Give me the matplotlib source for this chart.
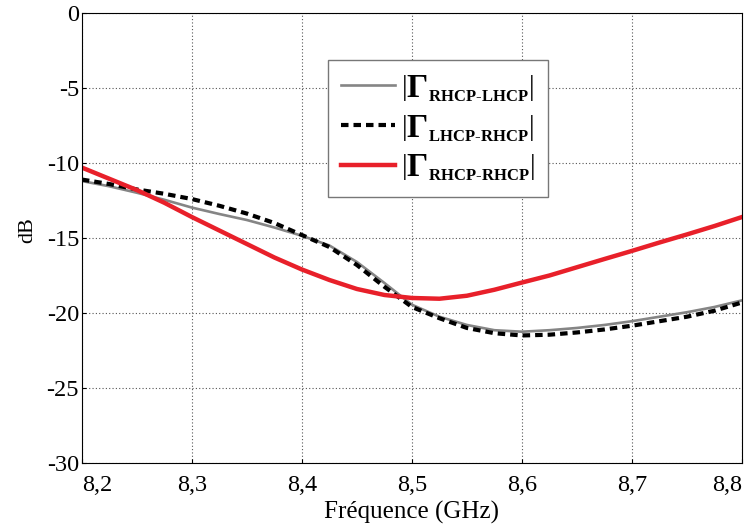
import numpy as np
import matplotlib.pyplot as plt
import matplotlib._mathtext as mathtext_internals

# frequency grid (GHz)
freq = [8.200, 8.225, 8.250, 8.275, 8.300, 8.325, 8.350, 8.375, 8.400, 8.425,
        8.450, 8.475, 8.500, 8.525, 8.550, 8.575, 8.600, 8.625, 8.650, 8.675,
        8.700, 8.725, 8.750, 8.775, 8.800]

# |Gamma RHCP-LHCP| (grey solid)
g_rl = [-11.20, -11.55, -11.98, -12.45, -12.97, -13.40, -13.80, -14.30, -14.85, -15.50,
        -16.60, -18.00, -19.45, -20.25, -20.80, -21.15, -21.25, -21.15, -21.00, -20.80,
        -20.55, -20.25, -19.95, -19.60, -19.16]

# |Gamma LHCP-RHCP| (black dotted)
g_lr = [-11.10, -11.40, -11.76, -12.05, -12.40, -12.85, -13.37, -14.00, -14.80, -15.60,
        -16.80, -18.25, -19.60, -20.35, -21.00, -21.35, -21.50, -21.45, -21.30, -21.10,
        -20.85, -20.55, -20.25, -19.85, -19.30]

# |Gamma RHCP-RHCP| (red solid)
g_rr = [-10.30, -11.05, -11.80, -12.65, -13.60, -14.50, -15.40, -16.30, -17.10, -17.80,
        -18.40, -18.80, -19.00, -19.05, -18.85, -18.45, -17.97, -17.50, -16.95, -16.40,
        -15.86, -15.30, -14.76, -14.20, -13.60]

xticks = [8.2, 8.3, 8.4, 8.5, 8.6, 8.7, 8.8]
xtick_labels = ['8,2', '8,3', '8,4', '8,5', '8,6', '8,7', '8,8']
yticks = [0, -5, -10, -15, -20, -25, -30]
ytick_labels = ['0', '-5', '-10', '-15', '-20', '-25', '-30']

plt.rcParams['font.family'] = ['Liberation Serif', 'DejaVu Serif']
plt.rcParams['mathtext.fontset'] = 'custom'
plt.rcParams['mathtext.rm'] = 'Liberation Serif'
plt.rcParams['mathtext.bf'] = 'Liberation Serif:bold'
plt.rcParams['mathtext.it'] = 'Liberation Serif:italic'
# smaller subscripts, the legend has a big Gamma with small index
mathtext_internals.SHRINK_FACTOR = 0.5

fig = plt.figure(figsize=(7.51, 5.26), dpi=100)
ax = fig.add_axes([0.109, 0.120, 0.879, 0.855])

ax.plot(freq, g_rl, color='#858585', lw=1.9,
        label=r'$\left|\mathbf{\Gamma}_{\mathbf{RHCP\text{-}LHCP}}\right|$')
ax.plot(freq, g_lr, color='black', lw=3.0, linestyle=(0, (1.8, 1.2)),
        label=r'$\left|\mathbf{\Gamma}_{\mathbf{LHCP\text{-}RHCP}}\right|$')
ax.plot(freq, g_rr, color='#e8202a', lw=3.2,
        label=r'$\left|\mathbf{\Gamma}_{\mathbf{RHCP\text{-}RHCP}}\right|$')

ax.set_xlim(8.2, 8.8)
ax.set_ylim(-30, 0)
ax.set_xticks(xticks)
ax.set_xticklabels(xtick_labels)
ax.set_yticks(yticks)
ax.set_yticklabels(ytick_labels)
ax.tick_params(direction='in', length=3, labelsize=17.5)
ax.tick_params(axis='x', pad=9)
ax.tick_params(axis='y', pad=2)
# end labels sit inside the frame like in the original
xlabels = ax.get_xticklabels()
xlabels[0].set_horizontalalignment('left')
xlabels[-1].set_horizontalalignment('right')

ax.grid(True, color='#555555', linestyle=(0, (1, 2)), lw=0.8)
for s in ax.spines.values():
    s.set_linewidth(0.8)

ax.set_xlabel('Fréquence (GHz)', fontsize=18)
ax.xaxis.set_label_coords(0.5, -0.084)
ax.set_ylabel('dB', fontsize=16)
ax.yaxis.set_label_coords(-0.067, 0.518)

leg = ax.legend(loc='upper left', bbox_to_anchor=(0.373, 0.896), fontsize=24,
                fancybox=False, framealpha=1, edgecolor='#777777',
                handlelength=1.6, handletextpad=0.2, labelspacing=0.27,
                borderpad=0.4, borderaxespad=0)
leg.get_frame().set_linewidth(1.0)

fig.savefig('out.png', dpi=100)
